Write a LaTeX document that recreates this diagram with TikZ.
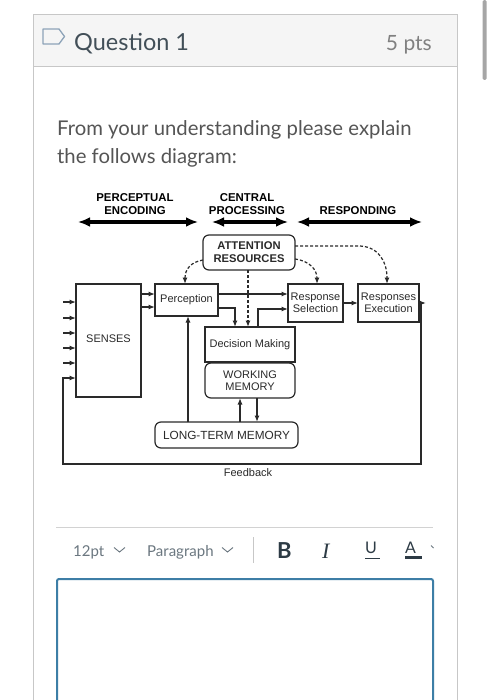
\documentclass[tikz,border=0pt]{standalone}
\usepackage{fontspec}
\setmainfont{Lato}
\newfontfamily\arialf{Liberation Sans}
\newfontfamily\seriff{Liberation Serif}
\usetikzlibrary{arrows.meta}
\definecolor{cardborder}{HTML}{C7C7C7}
\definecolor{headfill}{HTML}{F5F5F5}
\definecolor{inkdark}{HTML}{2D3B45}
\definecolor{txtgray}{HTML}{555555}
\definecolor{toolgray}{HTML}{6B7780}
\definecolor{boxblue}{HTML}{3D7EA6}
\definecolor{diag}{HTML}{2A2A2A}
\definecolor{iconc}{HTML}{8DA3B8}
\begin{document}
\begin{tikzpicture}[x=1pt,y=-1pt,
  dbox/.style={draw=diag,line width=1.2pt,inner sep=0pt,outer sep=0pt,align=center,
     font=\arialf\fontsize{11}{12.5}\selectfont,text=diag},
  rbox/.style={dbox,rounded corners=6pt},
  lab/.style={font=\arialf\bfseries\fontsize{11.4}{13.5}\selectfont,align=center,text=black},
  big/.style={line width=3.4pt,{Latex[length=12pt,width=10pt]}-{Latex[length=12pt,width=10pt]}},
  sarr/.style={draw=diag,line width=1.2pt,-{Latex[length=6.5pt,width=5pt]}},
  sline/.style={draw=diag,line width=1.2pt},
  dsh/.style={sarr,dash pattern=on 3pt off 2pt}]
\useasboundingbox (0,0) rectangle (491,700);
\fill[white] (0,0) rectangle (491,700);
% scrollbar
\fill[gray!70,rounded corners=1.5pt] (482.5,0) rectangle (486.5,80);
% card
\draw[cardborder,line width=1pt] (33,705) -- (33,15) -- (457,15) -- (457,705);
\filldraw[fill=headfill,draw=cardborder,line width=1pt] (33,15) rectangle (457,67);
% header icon
\draw[iconc,line width=1.3pt,line join=round] (43,29) -- (59,29) -- (64.5,36.5) -- (59,44) -- (43,44) -- cycle;
\node[anchor=base west,inner sep=0pt,text=inkdark!90,font=\fontsize{23.5}{26}\selectfont] (qt) at (74,50.5) {Question 1};
\node[anchor=base east,inner sep=0pt,text=gray,font=\fontsize{21}{24}\selectfont] (pts) at (432,50.5) {5 pts};
% question text
\node[anchor=base west,inner sep=0pt,text=txtgray,font=\fontsize{20.3}{28}\selectfont,align=left] (q1) at (57,136) {From your understanding please explain};
\node[anchor=base west,inner sep=0pt,text=txtgray,font=\fontsize{20.3}{28}\selectfont,align=left] (q2) at (57,164) {the follows diagram:};
% diagram labels
\node[lab] (pe) at (135,204) {PERCEPTUAL\\ENCODING};
\node[lab] (cp) at (247,204) {CENTRAL\\PROCESSING};
\node[lab] (rp) at (358,211) {RESPONDING};
\coordinate (a1) at (78,222); \coordinate (a2) at (198,222);
\coordinate (b1) at (212,222); \coordinate (b2) at (288,222);
\coordinate (c1) at (297,222); \coordinate (c2) at (422,222);
\draw[big] (a1) -- (a2);
\draw[big] (b1) -- (b2);
\draw[big] (c1) -- (c2);
% boxes
\node[rbox,font=\arialf\bfseries\fontsize{11.2}{13}\selectfont,minimum width=92pt,minimum height=35pt] (att) at (249,252.5) {ATTENTION\\RESOURCES};
\node[dbox,minimum width=65pt,minimum height=113pt] (sen) at (108.5,340.5) {\raisebox{4pt}{SENSES}};
\node[dbox,minimum width=63pt,minimum height=32pt] (per) at (186.5,300) {Perception};
\node[dbox,minimum width=55pt,minimum height=38pt] (rsel) at (315.5,303) {Response\\Selection};
\node[dbox,minimum width=61pt,minimum height=38pt] (rex) at (388.5,303) {Responses\\Execution};
\node[dbox,minimum width=90pt,minimum height=35pt] (dm) at (250,344.5) {Decision Making};
\node[rbox,minimum width=90pt,minimum height=35pt] (wm) at (250,380.5) {WORKING\\MEMORY};
\node[rbox,minimum width=143pt,minimum height=26pt,font=\arialf\fontsize{11.8}{13}\selectfont] (ltm) at (226.5,435) {LONG-TERM MEMORY};
\node[font=\arialf\fontsize{11}{12}\selectfont,text=diag] (fb) at (248,473) {Feedback};
% inputs to senses
\foreach \yy [count=\k] in {302,318,333,348,363}{
  \coordinate (in\k) at (63,\yy);
  \draw[sarr] (in\k) -- (in\k -| sen.west);
}
% senses -> perception
\draw[sarr] (sen.east |- 0,294) -- (per.west |- 0,294);
\draw[sarr] (sen.east |- 0,307) -- (per.west |- 0,307);
% perception -> response selection
\draw[sarr] (per.east |- 0,294) -- (rsel.west |- 0,294);
% perception -> decision making
\draw[sarr] (per.east |- 0,308) -| (dm.north -| 235,0);
% attention -> decision making
\draw[dsh] (att.south -| 248,0) -- (dm.north -| 248,0);
% decision making -> response selection
\draw[sarr] (dm.north -| 258,0) |- (rsel.west |- 0,309);
% response selection -> execution
\draw[sarr] (rsel.east) -- (rex.west);
\coordinate (ro) at (426,303);
\draw[sarr] (rex.east) -- (ro);
% feedback loop
\coordinate (fbr) at (421,464);
\coordinate (fbl) at (63,464);
\draw[sarr] (421,303) -- (fbr) -- (fbl) |- (sen.west |- 0,378);
% memory links
\draw[sarr] (ltm.north -| 188,0) -- (per.south -| 188,0);
\draw[sarr] (ltm.north -| 240,0) -- (wm.south -| 240,0);
\draw[sarr] (wm.south -| 257,0) -- (ltm.north -| 257,0);
% dashed attention links
\draw[dsh] (att.west |- 0,260) .. controls (191,262) and (185,269) .. (per.north -| 185,0);
\draw[dsh] (att.east |- 0,259) .. controls (310,261) and (317,270) .. (rsel.north -| 317,0);
\draw[dsh] (att.east |- 0,246) -- (360,246) .. controls (379,247) and (387,262) .. (rex.north -| 387,0);
% toolbar
\draw[cardborder!80,line width=1pt] (56,527) -- (433,527);
\node[anchor=base west,inner sep=0pt,text=toolgray,font=\fontsize{15}{18}\selectfont] (t12) at (73,556) {12pt};
\draw[toolgray,line width=0.9pt] (114,547.5) -- (119.5,552) -- (125,547.5);
\node[anchor=base west,inner sep=0pt,text=toolgray,font=\fontsize{15}{18}\selectfont] (tpar) at (147,556) {Paragraph};
\draw[toolgray,line width=0.9pt] (222,547.5) -- (227.5,552) -- (233,547.5);
\draw[cardborder,line width=1pt] (253,537) -- (253,563);
\node[anchor=base west,inner sep=0pt,text=inkdark,font=\bfseries\fontsize{22}{24}\selectfont] (tb) at (277,558) {B};
\node[anchor=base west,inner sep=0pt,text=inkdark,font=\seriff\itshape\fontsize{22}{24}\selectfont] (ti) at (322,558) {I};
\node[anchor=base west,inner sep=0pt,text=inkdark,font=\fontsize{16}{18}\selectfont] (tu) at (365,553) {U};
\draw[inkdark,line width=0.9pt] (365,558) -- (380,558);
\node[anchor=base west,inner sep=0pt,text=inkdark,font=\fontsize{16}{18}\selectfont] (ta) at (405,553) {A};
\fill[inkdark] (404.5,555.5) rectangle (421.5,559);
\draw[toolgray,line width=0.8pt] (431,545.5) -- (433.5,548);
% text box
\draw[boxblue,line width=2pt,rounded corners=2pt] (57,710) -- (57,579) -- (433,579) -- (433,710);
\end{tikzpicture}
\end{document}
